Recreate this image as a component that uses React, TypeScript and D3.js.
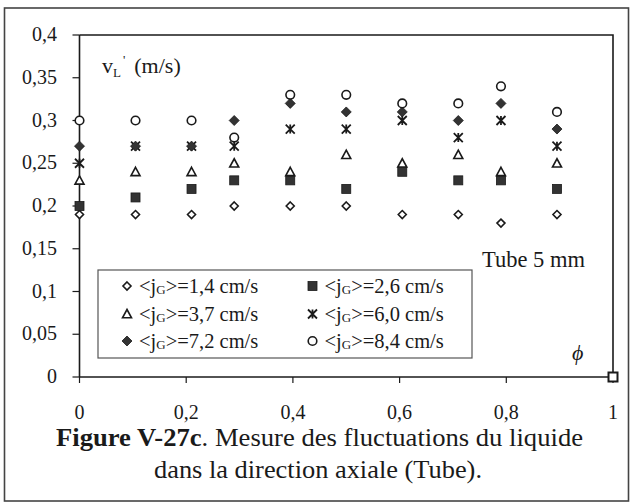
import React from "react";
import * as d3 from "d3";

const phi = [0, 0.105, 0.21, 0.29, 0.395, 0.5, 0.605, 0.71, 0.79, 0.895];
const s14 = [0.19, 0.19, 0.19, 0.2, 0.2, 0.2, 0.19, 0.19, 0.18, 0.19];
const s26 = [0.2, 0.21, 0.22, 0.23, 0.23, 0.22, 0.24, 0.23, 0.23, 0.22];
const s37 = [0.23, 0.24, 0.24, 0.25, 0.24, 0.26, 0.25, 0.26, 0.24, 0.25];
const s60 = [0.25, 0.27, 0.27, 0.27, 0.29, 0.29, 0.3, 0.28, 0.3, 0.27];
const s72 = [0.27, 0.27, 0.27, 0.3, 0.32, 0.31, 0.31, 0.3, 0.32, 0.29];
const s84 = [0.3, 0.3, 0.3, 0.28, 0.33, 0.33, 0.32, 0.32, 0.34, 0.31];
const endPoint = [{ x: 1, y: 0 }];
const legendLabels = ["1,4", "2,6", "3,7", "6,0", "7,2", "8,4"];
const yTicks = [0, 0.05, 0.1, 0.15, 0.2, 0.25, 0.3, 0.35, 0.4];
const xTicks = [0, 0.2, 0.4, 0.6, 0.8, 1];

type Kind = "odiamond" | "fsquare" | "otriangle" | "star" | "fdiamond" | "ocircle";
const kinds: Kind[] = ["odiamond", "fsquare", "otriangle", "star", "fdiamond", "ocircle"];
const seriesValues = [s14, s26, s37, s60, s72, s84];

const INK = "#1a1a1a";
const FONT = '"Liberation Serif", "DejaVu Serif", serif';

function Marker({ kind, x, y }: { kind: Kind; x: number; y: number }) {
  const sw = 1.6;
  switch (kind) {
    case "odiamond": {
      const r = 4;
      return <path d={`M${x},${y - r}L${x + r},${y}L${x},${y + r}L${x - r},${y}Z`} fill="#fff" stroke={INK} strokeWidth={sw} />;
    }
    case "fdiamond": {
      const r = 5;
      return <path d={`M${x},${y - r}L${x + r},${y}L${x},${y + r}L${x - r},${y}Z`} fill="#333" stroke={INK} strokeWidth={0.8} />;
    }
    case "fsquare": {
      const r = 4.5;
      return <rect x={x - r} y={y - r} width={2 * r} height={2 * r} fill="#333" stroke={INK} strokeWidth={0.8} />;
    }
    case "otriangle": {
      const w = 4.5;
      return <path d={`M${x},${y - 4.5}L${x + w},${y + 3.8}L${x - w},${y + 3.8}Z`} fill="#fff" stroke={INK} strokeWidth={sw} />;
    }
    case "star": {
      const r = 4.5;
      return (
        <path
          d={`M${x - r},${y - r}L${x + r},${y + r}M${x + r},${y - r}L${x - r},${y + r}M${x},${y - r}L${x},${y + r}`}
          fill="none"
          stroke={INK}
          strokeWidth={1.8}
        />
      );
    }
    case "ocircle":
      return <circle cx={x} cy={y} r={4.3} fill="#fff" stroke={INK} strokeWidth={sw} />;
  }
}

export default function App() {
  const W = 630;
  const H = 503;
  const x = d3.scaleLinear().domain([0, 1]).range([79.5, 613]);
  const y = d3.scaleLinear().domain([0, 0.4]).range([377, 35]);
  const fmt = (v: number) => String(+v.toFixed(2)).replace(".", ",");

  const legendRows = [287, 315, 342];
  const legendCols = [127, 312.5];
  const tf = { fontFamily: FONT };

  return (
    <div style={{ position: "fixed", left: 0, top: 0 }}>
      <svg width={W} height={H} style={{ display: "block", background: "#fff", fontFamily: FONT }}>
        <rect x={0} y={0} width={W} height={H} fill="#fff" />
        {/* outer frame */}
        <rect x={4.5} y={8} width={624} height={493} fill="none" stroke="#444" strokeWidth={1.6} />

        {/* plot frame */}
        <path d={`M${x(0)},${y(0.4)}L${x(1)},${y(0.4)}L${x(1)},${y(0)}`} fill="none" stroke={INK} strokeWidth={1.6} />
        <line x1={x(0)} x2={x(0)} y1={y(0.4)} y2={y(0)} stroke={INK} strokeWidth={1.6} />
        <line x1={x(0)} x2={x(1)} y1={y(0)} y2={y(0)} stroke={INK} strokeWidth={1.6} />

        {/* y ticks */}
        {yTicks.map((t) => (
          <g key={"y" + t}>
            <line x1={x(0) - 7} x2={x(0)} y1={y(t)} y2={y(t)} stroke={INK} strokeWidth={1.2} />
            <text x={57} y={y(t) + 6} textAnchor="end" fontSize={20} fill={INK} style={tf}>
              {fmt(t)}
            </text>
          </g>
        ))}
        {/* x ticks */}
        {xTicks.map((t) => (
          <g key={"x" + t}>
            <line x1={x(t)} x2={x(t)} y1={y(0)} y2={y(0) + 6} stroke={INK} strokeWidth={1.2} />
            <text x={x(t)} y={419} textAnchor="middle" fontSize={20} fill={INK} style={tf}>
              {fmt(t)}
            </text>
          </g>
        ))}

        {/* axis titles */}
        <text x={102} y={73} fontSize={22} fill={INK} style={tf}>
          v
          <tspan fontSize={13} dy={4}>L</tspan>
          <tspan fontSize={13} dy={-13} dx={2}>'</tspan>
          <tspan dy={9} dx={9}>(m/s)</tspan>
        </text>
        <text x={572} y={360} fontSize={22} fontStyle="italic" fill={INK} style={tf}>
          ϕ
        </text>
        <text x={482} y={267} fontSize={22.5} fill={INK} style={tf}>
          Tube 5 mm
        </text>

        {/* data */}
        {seriesValues.map((vals, si) => (
          <g key={"s" + si}>
            {vals.map((v, i) => (
              <Marker key={i} kind={kinds[si]} x={x(phi[i])} y={y(v)} />
            ))}
          </g>
        ))}
        {endPoint.map((p, i) => (
          <rect key={"e" + i} x={x(p.x) - 4.5} y={y(p.y) - 4.5} width={9} height={9} fill="#fff" stroke={INK} strokeWidth={2} />
        ))}

        {/* legend */}
        <rect x={98} y={270} width={374} height={88} fill="#fff" stroke="#555" strokeWidth={1.2} />
        {legendLabels.map((lab, i) => {
          const col = i % 2;
          const row = Math.floor(i / 2);
          const mx = legendCols[col];
          const my = legendRows[row];
          return (
            <g key={"l" + i}>
              <Marker kind={kinds[i]} x={mx} y={my - 1} />
              <text x={mx + 12} y={my + 6} fontSize={20.5} fill={INK} style={tf}>
                {"<j"}
                <tspan fontSize={13} dy={1}>G</tspan>
                <tspan dy={-1}>{">=" + lab + " cm/s"}</tspan>
              </text>
            </g>
          );
        })}

        {/* caption */}
        <text x={56} y={446} fontSize={25} fill={INK} style={tf} textLength={527} lengthAdjust="spacingAndGlyphs">
          <tspan fontWeight="bold">Figure V-27c</tspan>. Mesure des fluctuations du liquide
        </text>
        <text x={154} y={478} fontSize={25} fill={INK} style={tf} textLength={328} lengthAdjust="spacingAndGlyphs">
          dans la direction axiale (Tube).
        </text>
      </svg>
    </div>
  );
}
